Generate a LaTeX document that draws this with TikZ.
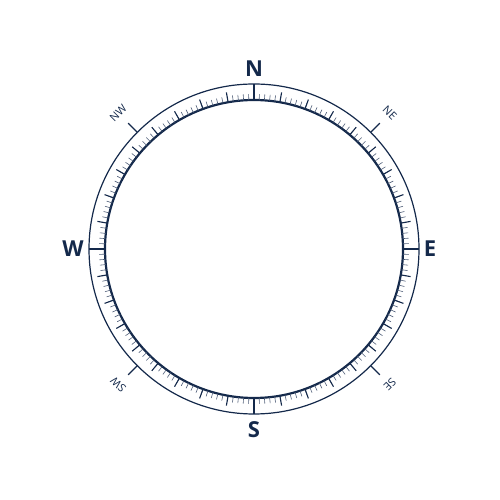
\documentclass[tikz,border=0pt]{standalone}
\usepackage{fontspec}
\setmainfont{Open Sans}
\usetikzlibrary{calc}
\definecolor{navy}{HTML}{14294B}
\tikzset{
    cardinal/.style={text=navy, font=\fontsize{22}{22}\selectfont\bfseries, inner sep=0pt},
    intercard/.style={text=navy, font=\fontsize{11}{11}\selectfont, inner sep=0pt},
}

\begin{document}
\begin{tikzpicture}[
    x=1pt, y=1pt,
    ring/.style={draw=navy},
    minortick/.style={draw=navy!75, line width=0.6pt},
    majortick/.style={draw=navy, line width=1.1pt},
]
\useasboundingbox (0,0) rectangle (499,500);
\coordinate (c) at (254,251);

% ===============================
%             rings
% ===============================

\draw[ring, line width=1.2pt] (c) circle (165);
\draw[ring, line width=2.2pt] (c) circle (149);

% ===============================
%         graduation ticks
% ===============================

\foreach \a in {0,2,...,358}
    \draw[minortick] ($(c)+(90-\a:149)$) -- ($(c)+(90-\a:155)$);

\foreach \a in {0,10,...,350}
    \draw[majortick] ($(c)+(90-\a:149)$) -- ($(c)+(90-\a:159)$);

\foreach \a in {0,90,180,270}
    \draw[majortick] ($(c)+(90-\a:149)$) -- ($(c)+(90-\a:165)$);

\foreach \a in {45,135,225,315}
    \draw[majortick] ($(c)+(90-\a:165)$) -- ($(c)+(90-\a:178)$);

% ===============================
%              labels
% ===============================

\node[cardinal] (north) at ($(c)+(90:180)$) {N};
\node[cardinal] (east)  at ($(c)+(0:176)$)  {E};
\node[cardinal] (south) at ($(c)+(270:181)$) {S};
\node[cardinal] (west)  at ($(c)+(180:181)$) {W};

\node[intercard, rotate=-45]  (ne) at ($(c)+(45:192)$)  {NE};
\node[intercard, rotate=-135] (se) at ($(c)+(-45:192)$) {SE};
\node[intercard, rotate=135]  (sw) at ($(c)+(225:192)$) {SW};
\node[intercard, rotate=45]   (nw) at ($(c)+(135:192)$) {NW};

\end{tikzpicture}
\end{document}
